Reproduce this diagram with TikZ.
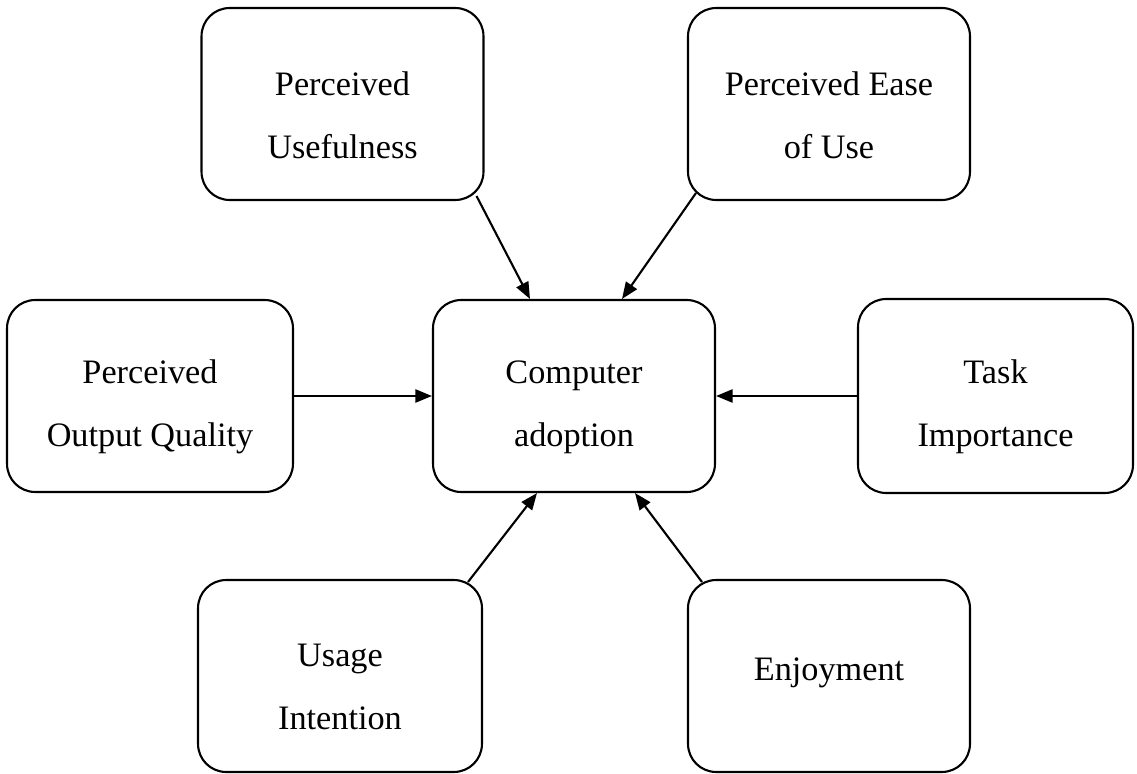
\documentclass[tikz,border=0pt]{standalone}
\usepackage{fontspec}
\setmainfont{Liberation Serif}
\usetikzlibrary{arrows.meta}

\begin{document}
\begin{tikzpicture}[x=0.02cm,y=-0.02cm,
  box/.style={draw,line width=1.2pt,rounded corners=16pt,minimum width=5.64cm,minimum height=3.84cm},
  txt/.style={font=\fontsize{19.5pt}{36pt}\selectfont,align=center,yshift=-0.22cm},
  onetxt/.style={font=\fontsize{19.5pt}{36pt}\selectfont,yshift=0.07cm},
  link/.style={-{Triangle[length=9.5pt,width=7.5pt]},line width=1.2pt}]
 \useasboundingbox (0,0) rectangle (1137,774);
 % factors
 \node[box,label={[txt]center:{Perceived\\Usefulness}}](PU) at (342.5,104) {};
 \node[box,label={[txt]center:{Perceived Ease\\of Use}}](PEOU) at (829,104) {};
 \node[box,minimum width=5.72cm,label={[txt]center:{Perceived\\Output Quality}}](POQ) at (150,396) {};
 \node[box,label={[txt]center:{Computer\\adoption}}](CA) at (574,396) {};
 \node[box,minimum width=5.5cm,minimum height=3.88cm,label={[txt]center:{Task\\Importance}}](TI) at (995.5,396) {};
 \node[box,minimum width=5.68cm,label={[txt]center:{Usage\\Intention}}](UI) at (340,676) {};
 \node[box,label={[onetxt]center:Enjoyment}](EJ) at (829,676) {};
 % links
 \draw[link] ([shift={(-8,-5)}]PU.south east) -- ([shift={(-44,0)}]CA.north);
 \draw[link] ([shift={(9,-8)}]PEOU.south west) -- ([shift={(48,0)}]CA.north);
 \draw[link] (POQ.east) -- (CA.west);
 \draw[link] (TI.west) -- (CA.east);
 \draw[link] ([shift={(-15,3)}]UI.north east) -- ([shift={(-37,0)}]CA.south);
 \draw[link] ([shift={(15,3)}]EJ.north west) -- ([shift={(61,0)}]CA.south);
\end{tikzpicture}
\end{document}
